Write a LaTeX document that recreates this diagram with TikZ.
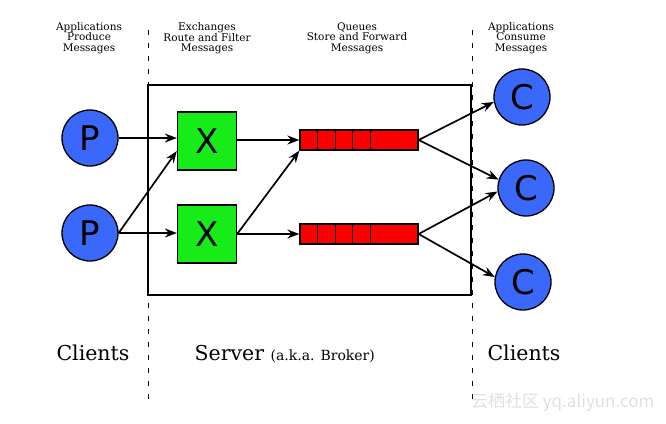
\documentclass[tikz,border=0pt]{standalone}
\usepackage{fontspec}
\setmainfont{DejaVu Serif}
\setsansfont{DejaVu Sans}
\newfontfamily\cjkfont{Noto Sans CJK SC}
\usetikzlibrary{arrows.meta}

\definecolor{agentblue}{RGB}{58,104,250}
\definecolor{exgreen}{RGB}{24,236,24}
\definecolor{qred}{RGB}{250,0,0}

\begin{document}
\begin{tikzpicture}[
  x=1pt, y=-1pt,
  line width=1.3pt,
  >={Stealth[length=12pt,width=9pt,inset=4pt]},
  agent/.style={
    circle,
    draw,
    fill=agentblue,
    minimum size=56pt,
    inner sep=0pt,
    font=\sffamily\fontsize{34}{34}\selectfont
  },
  exchange/.style={
    rectangle,
    draw,
    fill=exgreen,
    minimum width=59pt,
    minimum height=58pt,
    inner sep=0pt,
    font=\sffamily\fontsize{34}{34}\selectfont
  },
  queue/.style={
    rectangle,
    draw,
    fill=qred,
    minimum width=118pt,
    minimum height=20pt,
    inner sep=0pt
  },
  caption/.style={
    align=center,
    font=\fontsize{10.5}{10.3}\selectfont,
    inner sep=0pt
  },
  role/.style={
    font=\fontsize{20.5}{24}\selectfont,
    inner sep=0pt
  },
  msg/.style={->, line width=1.7pt}
]

  \useasboundingbox (0,0) rectangle (666,423);

  % Broker and the dashed split lines.
  \draw[line width=1.7pt] (148,85) rectangle (471,295);
  \draw[line width=1pt, dash pattern=on 5pt off 8pt] (148,30) -- (148,405);
  \draw[line width=1pt, dash pattern=on 5pt off 8pt] (472,30) -- (472,405);

  % Column captions.
  \node[caption] (capprod) at (89,38)  {Applications\\Produce\\Messages};
  \node[caption] (capex)   at (207,38) {Exchanges\\Route and Filter\\Messages};
  \node[caption] (capq)    at (357,38) {Queues\\Store and Forward\\Messages};
  \node[caption] (capcons) at (521,38) {Applications\\Consume\\Messages};

  % Producers, exchanges, queues, consumers.
  \node[agent] (p1) at (90,138) {P};
  \node[agent] (p2) at (90,233) {P};

  \node[exchange] (x1) at (207,141) {X};
  \node[exchange] (x2) at (207,234) {X};

  \node[queue] (q1) at (359,140) {};
  \node[queue] (q2) at (359,234) {};
  \foreach \q in {q1,q2}
    \foreach \d in {18,36,53,71}
      \draw ([xshift=\d pt]\q.north west) -- ([xshift=\d pt]\q.south west);

  \node[agent] (c1) at (522,97)  {C};
  \node[agent] (c2) at (526,188) {C};
  \node[agent] (c3) at (523,282) {C};

  % Message flow.
  \draw[msg] (p1.east) -- (p1.east -| x1.west);
  \draw[msg] (p2.east) -- ([yshift=-10pt]x1.west);
  \draw[msg] (p2.east) -- (p2.east -| x2.west);
  \draw[msg] (x1.east |- q1.west) -- (q1.west);
  \draw[msg] (x2.east) -- (q1.south west);
  \draw[msg] (x2.east) -- (q2.west);
  \draw[msg] (q1.east) -- (c1.190);
  \draw[msg] (q1.east) -- (c2.163);
  \draw[msg] (q2.east) -- (c2.187);
  \draw[msg] (q2.east) -- (c3.170);

  % Roles.
  \node[role, anchor=base] (clientsl) at (93,360) {Clients};
  \node[role, anchor=base west] (server) at (194,360)
    {Server {\fontsize{14}{16}\selectfont (a.k.a. Broker)}};
  \node[role, anchor=base] (clientsr) at (524,360) {Clients};

  % Watermark.
  \node[text=black!12, font=\cjkfont\fontsize{17}{20}\selectfont, anchor=base east, inner sep=0pt]
    (mark) at (655,407) {云栖社区 yq.aliyun.com};

\end{tikzpicture}
\end{document}
